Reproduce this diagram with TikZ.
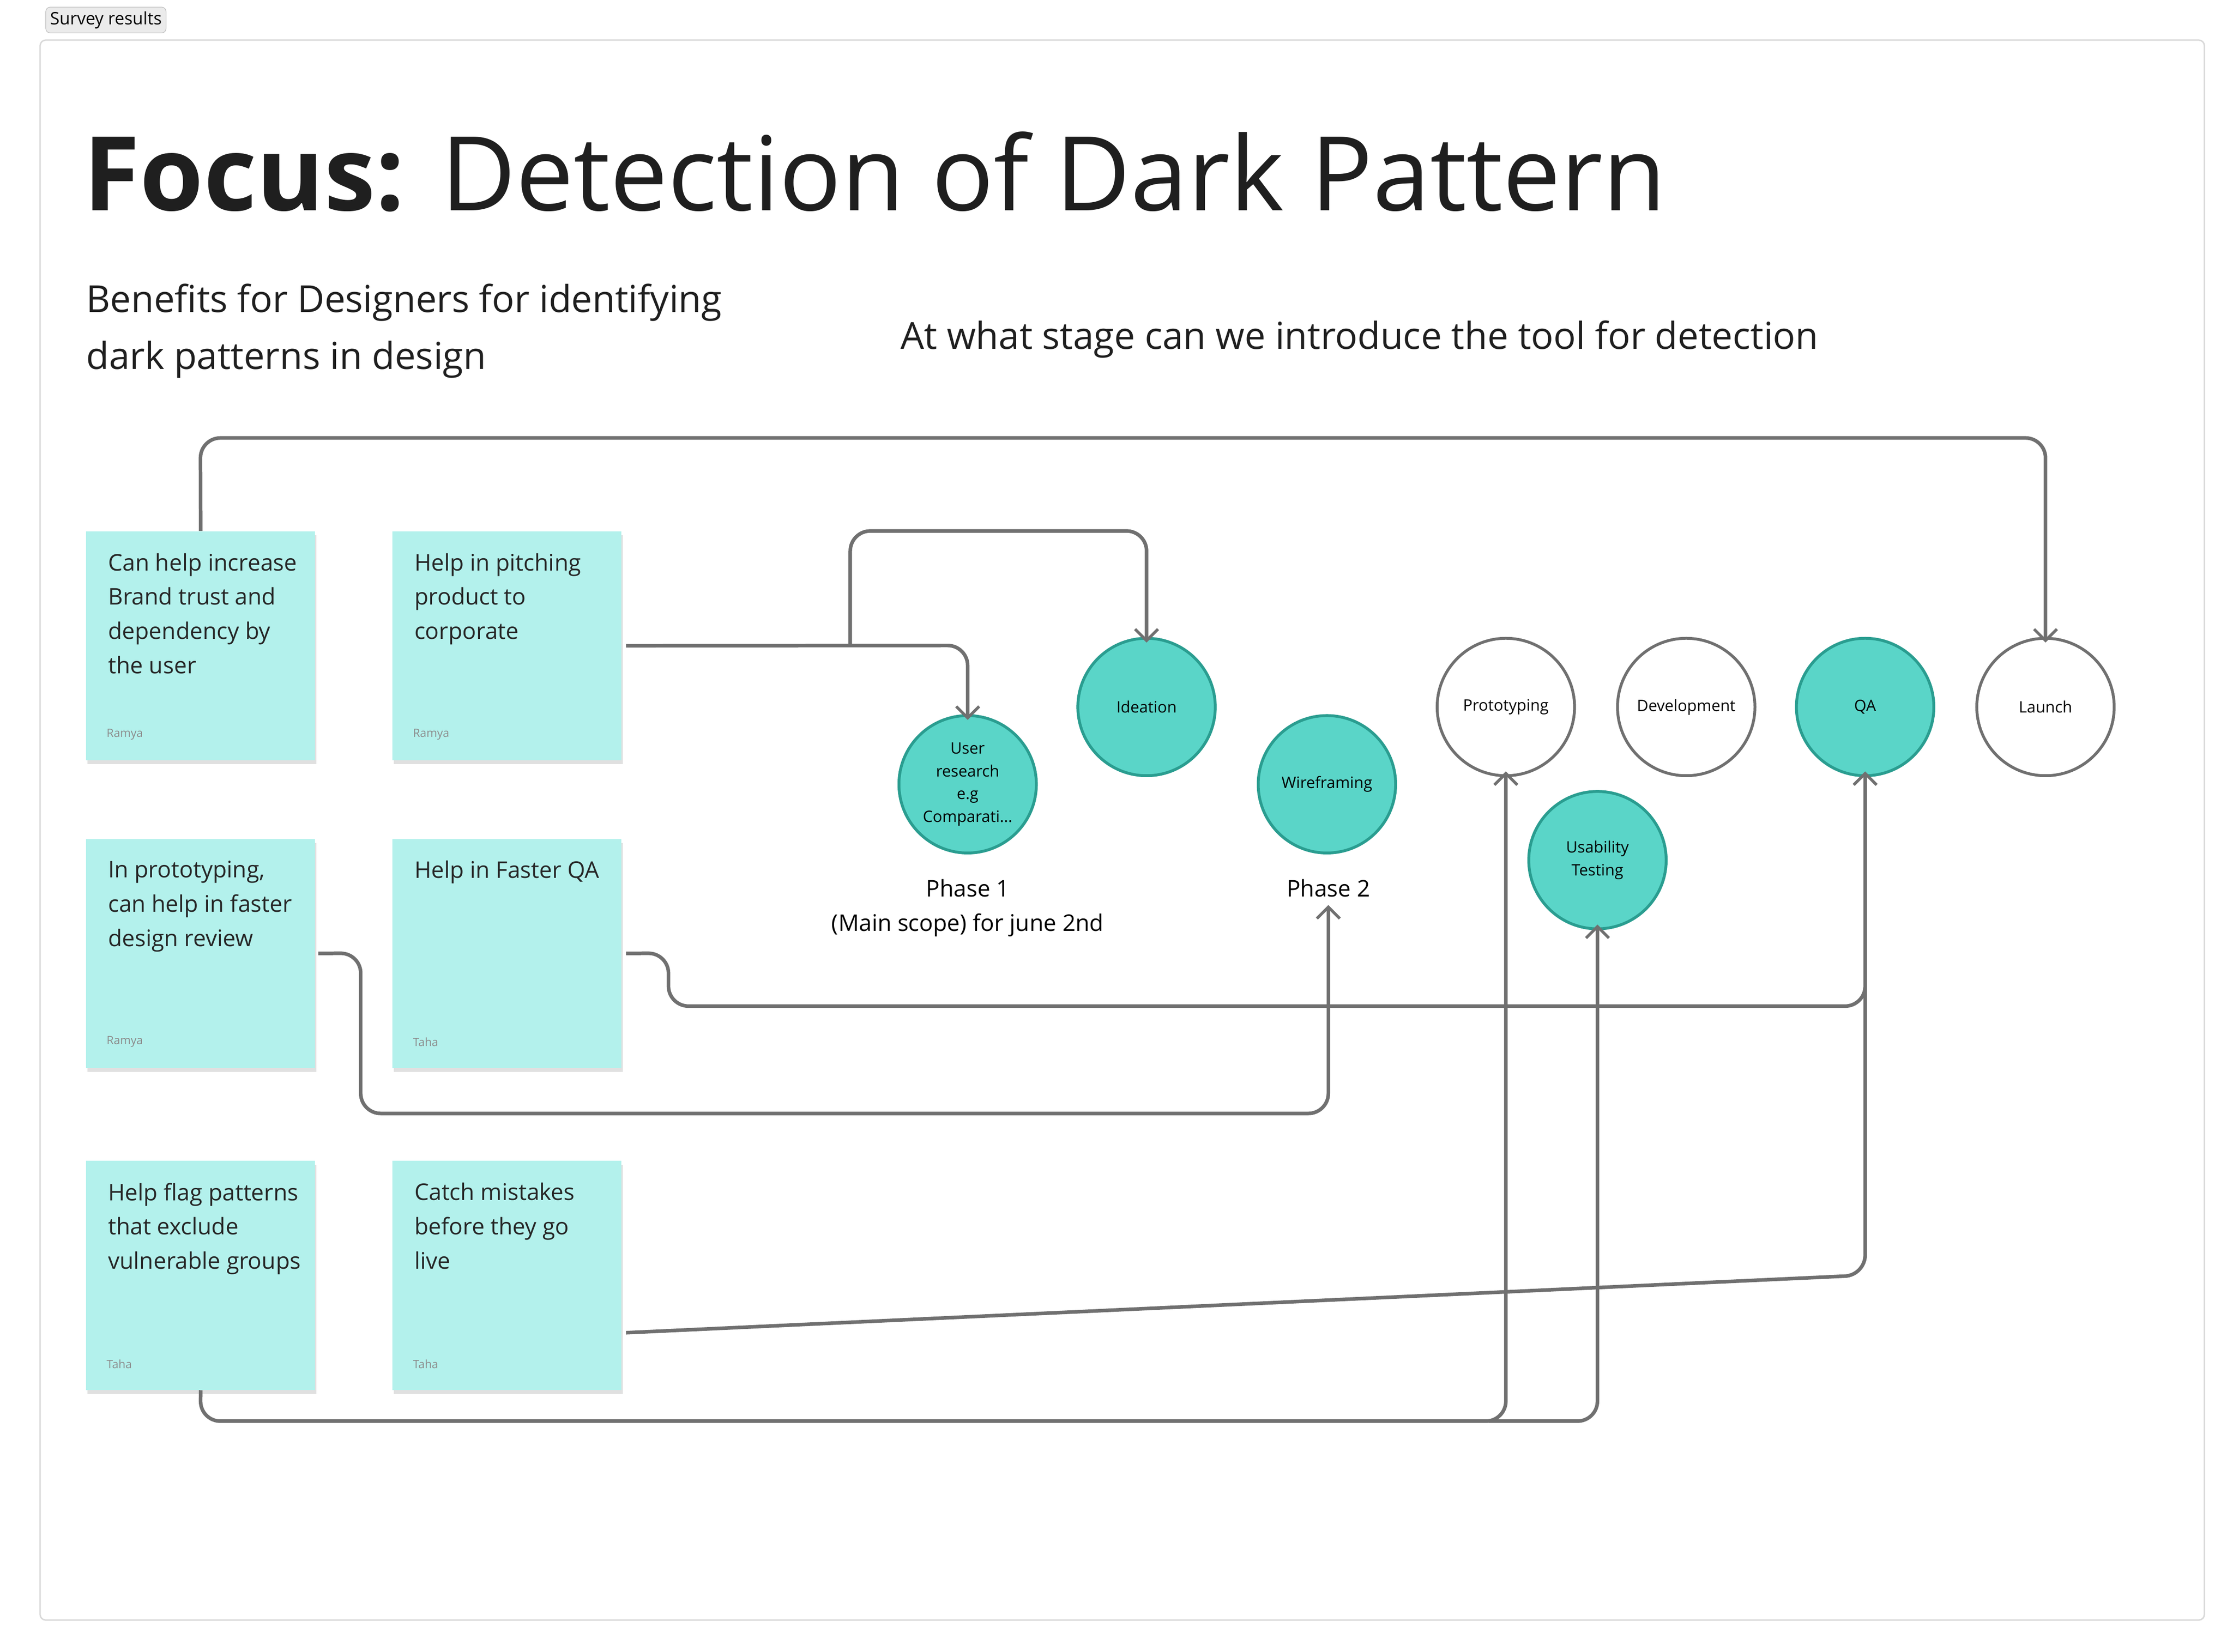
\documentclass[tikz,border=0pt]{standalone}
\usepackage{fontspec}
\setmainfont{Open Sans}
\usetikzlibrary{arrows.meta}
\definecolor{note}{HTML}{B3F1EC}
\definecolor{teal}{HTML}{5AD5C8}
\definecolor{tealb}{HTML}{2A9D90}
\definecolor{wire}{HTML}{707070}
\begin{document}
\begin{tikzpicture}[x=1pt,y=-1pt,
 note/.style={fill=note,minimum width=160pt,minimum height=160pt,anchor=north west,inner sep=0pt},
 ntext/.style={anchor=north west,align=left,font=\fontsize{16}{24}\selectfont,text=black!85},
 auth/.style={anchor=west,font=\fontsize{8}{9}\selectfont,text=black!45},
 tc/.style={circle,minimum size=96pt,inner sep=0pt,draw=tealb,line width=2pt,fill=teal,font=\fontsize{11}{16}\selectfont,align=center},
 wc/.style={circle,minimum size=96pt,inner sep=0pt,draw=wire,line width=2pt,fill=white,font=\fontsize{11}{16}\selectfont,align=center},
 con/.style={draw=wire,line width=2.5pt,rounded corners=14pt,-{Straight Barb[length=8pt,width=16pt,line width=2pt]}},
 conn/.style={draw=wire,line width=2.5pt,rounded corners=14pt}]
\useasboundingbox (0,0) rectangle (1560,1154);
\fill[white] (0,0) rectangle (1560,1154);
\draw[black!15,line width=1pt,rounded corners=4pt] (28,28) rectangle (1540,1132);
\node[fill=black!8,draw=black!25,rounded corners=3pt,inner sep=3pt,font=\fontsize{12}{13}\selectfont] (tag) at (74,14) {Survey results};
\node[anchor=base west,inner sep=0pt,font=\fontsize{72}{80}\selectfont,text=black!88] (title) at (58,147) {\textbf{Focus:} Detection of Dark Pattern};
\node[anchor=north west,align=left,inner sep=0pt,font=\fontsize{26}{40}\selectfont,text=black!88] (sub1) at (60,198) {Benefits for Designers for identifying\\dark patterns in design};
\node[anchor=west,inner sep=0pt,font=\fontsize{26}{30}\selectfont,text=black!88] (sub2) at (629,237) {At what stage can we introduce the tool for detection};
% notes
\foreach \n/\x/\y/\t/\a in {n1/60/371/{Can help increase\\Brand trust and\\dependency by\\the user}/Ramya,
 n2/274/371/{Help in pitching\\product to\\corporate}/Ramya,
 n3/60/586/{In prototyping,\\can help in faster\\design review}/Ramya,
 n4/274/586/{Help in Faster QA}/Taha,
 n5/60/811/{Help flag patterns\\that exclude\\vulnerable groups}/Taha,
 n6/274/811/{Catch mistakes\\before they go\\live}/Taha}{
 \fill[black!12] (\x+1,\y+3) rectangle (\x+161,\y+163);
 \node[note] (\n) at (\x,\y) {};
 \node[ntext] at (\x+12,\y+12) {\t};
 \node[auth] at (\x+11,\y+142) {\a};
}
% circles
\node[tc] (ur) at (676,548) {User\\research\\e.g\\Comparati...};
\node[tc] (id) at (801,494) {Ideation};
\node[tc] (wf) at (927,548) {Wireframing};
\node[wc] (pr) at (1052,494) {Prototyping};
\node[wc] (dv) at (1178,494) {Development};
\node[tc] (qa) at (1303,494) {QA};
\node[wc] (la) at (1429,494) {Launch};
\node[tc] (ut) at (1116,601) {Usability\\Testing};
\node[font=\fontsize{16}{24}\selectfont,align=center,anchor=north] (p1) at (676,611) {Phase 1\\(Main scope) for june 2nd};
\node[font=\fontsize{16}{24}\selectfont,anchor=north] (p2) at (928,611) {Phase 2};
\coordinate (j1) at (594,451);
\coordinate (j2) at (1303,891);
\coordinate (j3) at (1040,993);
% connectors
\draw[con] (n1.north) -- (140,306) -- (1429,306) -- ([yshift=-4pt]la.north);
\draw[con] ([xshift=3pt]n2.east) -- (676,451) -- ([yshift=-4pt]ur.north);
\draw[con] (j1) -- (594,371) -- (801,371) -- ([yshift=-4pt]id.north);
\draw[con] ([xshift=2pt]n3.east) -- (252,666) -- (252,778) -- (928,778) -- ([yshift=-2pt]p2.south);
\draw[con] ([xshift=3pt]n4.east) -- (467,666) -- (467,703) -- (1303,703) -- ([yshift=4pt]qa.south);
\draw[conn] ([xshift=3pt,yshift=-40pt]n6.east) -- (j2) -- (1303,690);
\draw[con] (n5.south) -- (140,993) -- (1052,993) -- ([yshift=4pt]pr.south);
\draw[con] (j3) -- (1116,993) -- ([yshift=4pt]ut.south);
\end{tikzpicture}
\end{document}
